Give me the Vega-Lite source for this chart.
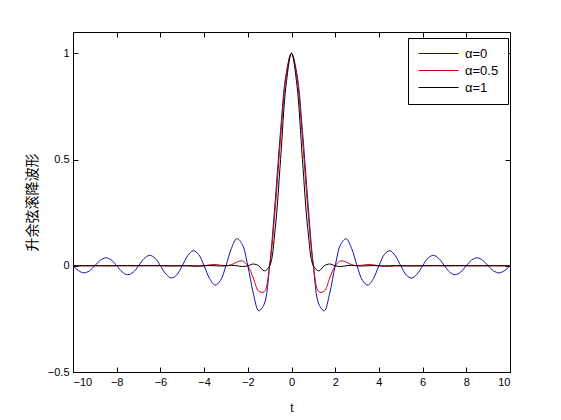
{
  "$schema": "https://vega.github.io/schema/vega-lite/v6.json",
  "width": 437,
  "height": 340,
  "autosize": {"type": "none"},
  "padding": {"left": 73, "top": 32, "right": 51, "bottom": 48},
  "background": "white",
  "config": {
    "view": {"stroke": "black", "strokeWidth": 1},
    "font": "Liberation Sans",
    "axis": {"grid": false, "domainColor": "black", "tickColor": "black", "labelColor": "black", "labelFontSize": 11, "titleFontWeight": "normal", "titleColor": "black", "tickSize": -5, "labelPadding": 9, "labelFont": "Liberation Sans"}
  },
  "data": {"values": [
    {"t": -10, "a0": 0, "a05": 0, "a1": 0},
    {"t": -9.75, "a0": -0.0231, "a05": -0.0002, "a1": 0},
    {"t": -9.5, "a0": -0.0335, "a05": -0.0003, "a1": 0},
    {"t": -9.25, "a0": -0.0243, "a05": -0.0001, "a1": 0},
    {"t": -9, "a0": 0, "a05": 0, "a1": 0},
    {"t": -8.75, "a0": 0.0257, "a05": -0.0001, "a1": 0},
    {"t": -8.5, "a0": 0.0374, "a05": -0.0004, "a1": 0},
    {"t": -8.25, "a0": 0.0273, "a05": -0.0004, "a1": -0.0001},
    {"t": -8, "a0": 0, "a05": 0, "a1": 0},
    {"t": -7.75, "a0": -0.029, "a05": 0.0005, "a1": 0.0001},
    {"t": -7.5, "a0": -0.0424, "a05": 0.0005, "a1": 0},
    {"t": -7.25, "a0": -0.031, "a05": 0.0002, "a1": -0.0001},
    {"t": -7, "a0": 0, "a05": 0, "a1": 0},
    {"t": -6.75, "a0": 0.0333, "a05": 0.0003, "a1": 0.0001},
    {"t": -6.5, "a0": 0.049, "a05": 0.0008, "a1": 0},
    {"t": -6.25, "a0": 0.036, "a05": 0.0009, "a1": -0.0002},
    {"t": -6, "a0": 0, "a05": 0, "a1": 0},
    {"t": -5.75, "a0": -0.0391, "a05": -0.0011, "a1": 0.0002},
    {"t": -5.5, "a0": -0.0579, "a05": -0.0014, "a1": 0},
    {"t": -5.25, "a0": -0.0429, "a05": -0.0006, "a1": -0.0003},
    {"t": -5, "a0": 0, "a05": 0, "a1": 0},
    {"t": -4.75, "a0": 0.0474, "a05": -0.0008, "a1": 0.0004},
    {"t": -4.5, "a0": 0.0707, "a05": -0.0026, "a1": 0},
    {"t": -4.25, "a0": 0.053, "a05": -0.0029, "a1": -0.0005},
    {"t": -4, "a0": 0, "a05": 0, "a1": 0},
    {"t": -3.75, "a0": -0.06, "a05": 0.0042, "a1": 0.0008},
    {"t": -3.5, "a0": -0.0909, "a05": 0.0057, "a1": 0},
    {"t": -3.25, "a0": -0.0693, "a05": 0.0028, "a1": -0.0012},
    {"t": -3, "a0": 0, "a05": 0, "a1": 0},
    {"t": -2.75, "a0": 0.0818, "a05": 0.0048, "a1": 0.002},
    {"t": -2.5, "a0": 0.1273, "a05": 0.0171, "a1": 0},
    {"t": -2.25, "a0": 0.1, "a05": 0.0227, "a1": -0.0037},
    {"t": -2, "a0": 0, "a05": 0, "a1": 0},
    {"t": -1.75, "a0": -0.1286, "a05": -0.0576, "a1": 0.0081},
    {"t": -1.5, "a0": -0.2122, "a05": -0.12, "a1": 0},
    {"t": -1.25, "a0": -0.1801, "a05": -0.1225, "a1": -0.0243},
    {"t": -1, "a0": 0, "a05": 0, "a1": 0},
    {"t": -0.75, "a0": 0.3001, "a05": 0.2625, "a1": 0.1698},
    {"t": -0.5, "a0": 0.6366, "a05": 0.6002, "a1": 0.5},
    {"t": -0.25, "a0": 0.9003, "a05": 0.8872, "a1": 0.8488},
    {"t": 0, "a0": 1, "a05": 1, "a1": 1},
    {"t": 0.25, "a0": 0.9003, "a05": 0.8872, "a1": 0.8488},
    {"t": 0.5, "a0": 0.6366, "a05": 0.6002, "a1": 0.5},
    {"t": 0.75, "a0": 0.3001, "a05": 0.2625, "a1": 0.1698},
    {"t": 1, "a0": 0, "a05": 0, "a1": 0},
    {"t": 1.25, "a0": -0.1801, "a05": -0.1225, "a1": -0.0243},
    {"t": 1.5, "a0": -0.2122, "a05": -0.12, "a1": 0},
    {"t": 1.75, "a0": -0.1286, "a05": -0.0576, "a1": 0.0081},
    {"t": 2, "a0": 0, "a05": 0, "a1": 0},
    {"t": 2.25, "a0": 0.1, "a05": 0.0227, "a1": -0.0037},
    {"t": 2.5, "a0": 0.1273, "a05": 0.0171, "a1": 0},
    {"t": 2.75, "a0": 0.0818, "a05": 0.0048, "a1": 0.002},
    {"t": 3, "a0": 0, "a05": 0, "a1": 0},
    {"t": 3.25, "a0": -0.0693, "a05": 0.0028, "a1": -0.0012},
    {"t": 3.5, "a0": -0.0909, "a05": 0.0057, "a1": 0},
    {"t": 3.75, "a0": -0.06, "a05": 0.0042, "a1": 0.0008},
    {"t": 4, "a0": 0, "a05": 0, "a1": 0},
    {"t": 4.25, "a0": 0.053, "a05": -0.0029, "a1": -0.0005},
    {"t": 4.5, "a0": 0.0707, "a05": -0.0026, "a1": 0},
    {"t": 4.75, "a0": 0.0474, "a05": -0.0008, "a1": 0.0004},
    {"t": 5, "a0": 0, "a05": 0, "a1": 0},
    {"t": 5.25, "a0": -0.0429, "a05": -0.0006, "a1": -0.0003},
    {"t": 5.5, "a0": -0.0579, "a05": -0.0014, "a1": 0},
    {"t": 5.75, "a0": -0.0391, "a05": -0.0011, "a1": 0.0002},
    {"t": 6, "a0": 0, "a05": 0, "a1": 0},
    {"t": 6.25, "a0": 0.036, "a05": 0.0009, "a1": -0.0002},
    {"t": 6.5, "a0": 0.049, "a05": 0.0008, "a1": 0},
    {"t": 6.75, "a0": 0.0333, "a05": 0.0003, "a1": 0.0001},
    {"t": 7, "a0": 0, "a05": 0, "a1": 0},
    {"t": 7.25, "a0": -0.031, "a05": 0.0002, "a1": -0.0001},
    {"t": 7.5, "a0": -0.0424, "a05": 0.0005, "a1": 0},
    {"t": 7.75, "a0": -0.029, "a05": 0.0005, "a1": 0.0001},
    {"t": 8, "a0": 0, "a05": 0, "a1": 0},
    {"t": 8.25, "a0": 0.0273, "a05": -0.0004, "a1": -0.0001},
    {"t": 8.5, "a0": 0.0374, "a05": -0.0004, "a1": 0},
    {"t": 8.75, "a0": 0.0257, "a05": -0.0001, "a1": 0},
    {"t": 9, "a0": 0, "a05": 0, "a1": 0},
    {"t": 9.25, "a0": -0.0243, "a05": -0.0001, "a1": 0},
    {"t": 9.5, "a0": -0.0335, "a05": -0.0003, "a1": 0},
    {"t": 9.75, "a0": -0.0231, "a05": -0.0002, "a1": 0},
    {"t": 10, "a0": 0, "a05": 0, "a1": 0}
  ]},
  "transform": [{"fold": ["a0", "a05", "a1"], "as": ["s", "h"]}],
  "layer": [
    {
      "mark": {"type": "line", "interpolate": "catmull-rom", "strokeWidth": 1, "clip": true},
      "encoding": {
        "x": {"field": "t", "type": "quantitative", "scale": {"domain": [-10, 10], "nice": false, "zero": false},
              "axis": {"orient": "bottom", "values": [-10, -8, -6, -4, -2, 0, 2, 4, 6, 8, 10], "title": "t", "titleFontSize": 12, "titleX": 218.5, "titleY": 35, "titleBaseline": "middle"}},
        "y": {"field": "h", "type": "quantitative", "scale": {"domain": [-0.5, 1.1], "nice": false, "zero": false},
              "axis": {"orient": "left", "values": [-0.5, 0, 0.5, 1], "format": "~g", "title": "升余弦滚降波形", "titleFont": "Noto Sans CJK SC", "titleFontSize": 14, "titleX": -41, "titleY": 170, "titleAlign": "center", "titleBaseline": "middle", "titleAngle": -90}},
        "color": {"field": "s", "type": "nominal",
                  "scale": {"domain": ["a0", "a05", "a1"], "range": ["#1010a8", "#d40000", "#000000"]},
                  "legend": {"title": null, "orient": "none", "legendX": 335, "legendY": 6, "symbolType": "stroke", "symbolSize": 100, "symbolStrokeWidth": 1.2, "labelFontSize": 13, "labelFont": "Liberation Sans", "labelColor": "black", "labelOffset": 35, "rowPadding": 3, "padding": 9, "strokeColor": "black", "fillColor": "white", "cornerRadius": 0,
                             "labelExpr": "datum.label == 'a0' ? 'α=0' : datum.label == 'a05' ? 'α=0.5' : 'α=1'",
                             "encode": {"symbols": {"update": {"shape": {"value": "M-1,0H7"}}}}}}
      }
    },
    {
      "mark": {"type": "line", "opacity": 0},
      "encoding": {
        "x": {"field": "t", "type": "quantitative", "axis": {"orient": "top", "values": [-10, -8, -6, -4, -2, 0, 2, 4, 6, 8, 10], "labels": false, "title": null, "domain": false}},
        "y": {"field": "h", "type": "quantitative", "axis": {"orient": "right", "values": [-0.5, 0, 0.5, 1], "labels": false, "title": null, "domain": false}}
      }
    }
  ],
  "resolve": {"axis": {"x": "independent", "y": "independent"}}
}
